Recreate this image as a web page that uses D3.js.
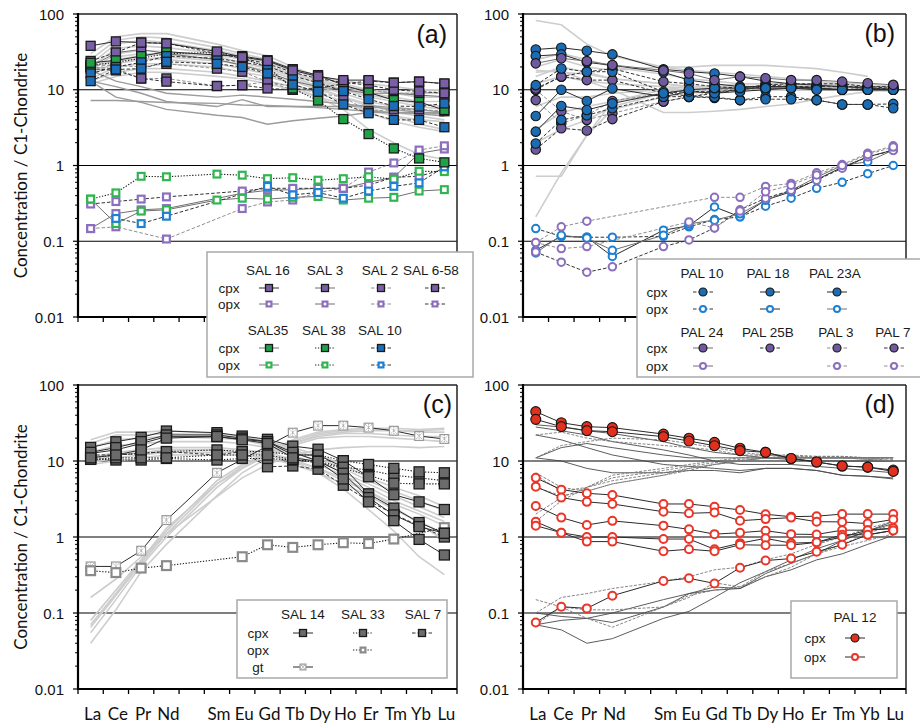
<!DOCTYPE html>
<html><head><meta charset="utf-8">
<script src="https://cdn.jsdelivr.net/npm/d3@7"></script>
<style>body{margin:0;background:#fff}svg{display:block}</style>
</head><body>
<svg id="chart" width="920" height="723"></svg>
<script>
// ---------------- categories & ticks ----------------
const elements = ["La","Ce","Pr","Nd","Pm","Sm","Eu","Gd","Tb","Dy","Ho","Er","Tm","Yb","Lu"];
const ree = ["La","Ce","Pr","Nd","Sm","Eu","Gd","Tb","Dy","Ho","Er","Tm","Yb","Lu"];
const yTickValues = [0.01,0.1,1,10,100];
const yTickLabels = ["0.01","0.1","1","10","100"];
const gridValues = [0.1,1,10];

// ---------------- panel (a) ----------------
const aGreyLight = [
 [30,50,55,55,40,33,28,20,15,12,10,9,8,8],
 [25,45,50,48,36,30,25,19,14,11,9,8,7,7],
 [22,40,45,42,33,28,23,17,13,10,8.5,7.5,6.5,6],
 [20,35,38,36,30,25,21,16,12,10,8,7,6,5.5],
 [18,30,33,32,27,23,19,15,11,9,7,6,5,4.5],
 [16,27,30,29,25,21,18,14,10.5,8,6.5,5,4.5,4],
 [15,24,26,25,22,19,16,13,10,8,6,4.5,3.5,3],
 [14,20,22,22,20,17,15,12,9,7,5,3.8,3.2,2.8],
 [13,17,19,19,17,15,13,11,8,5.5,3,2,1.4,1.2],
 [12,15,17,17,15,14,12,10,8,6.5,5.5,4.5,4,3.8],
 [17,22,25,27,24,22,20,16,13,11,10,9,9,9],
 [20,25,28,30,28,26,23,18,15,13,12,11,10,10]
];
const aGreyMid = [
 [7.2,7.2,7.0,6.8,6.6,6.3,6.2,6.0,6.0,6.0,6.2,5.8,5.5,5.0],
 [13,8,6.8,5.5,4.6,4.3,3.5,3.9,4.2,4.5,5.0,5.0,5.0,5.0],
 [13,11,9,7,6,7.4,6,6,5.8,5.5,5.2,5,4.8,4.5],
 [18,13,11,9,8,8.5,8,7.5,7,6.5,6,5.5,5,4.8]
];
const aSAL16cpx = [[38,43.5,41.9,40.9,32,27,24,18,15,13.4,13.4,12.4,12.8,12.1]];
const aSAL3cpx = [[20,30.9,34,30,25,21,17,13,11,10,9,9,8.5,8.1]];
const aSAL2cpx = [[20,19,14.1,14.1,11.2,11.5,12.8,10,10,10.5,10,9,9,9.5],
                  [21,21,20,22,19,17.3,12.8,11,9,8,5.2,5.5,5.5,5.2]];
const aSAL658cpx = [[19,18,14.1,12.8,11.2,11.5,10.4,10,10.5,12,13,12.4,12.8,12],
                    [24,31,42,41,30,26,22,17,14,12.5,11.5,10,9.5,9]];
const aSAL35cpx = [[22.7,24.4,27.8,31.8,28.7,27.8,24.6,18.7,15.6,11.5,9.2,7.3,6.9,5.4]];
const aSAL38cpx = [[21,23,26,30,31,26,20,10.4,7.2,4.1,2.6,1.68,1.24,1.1]];
const aSAL10cpx = [[16.4,20,23,27.8,26,23,20.6,15.2,12.4,9.6,7.5,6.1,6.0,6.6],
                   [13,18.5,19,23.4,22,20,16.4,11.7,9.4,6.4,4.9,4.0,4.0,3.2]];
const aSAL16opx = [[0.147,0.232,0.26,0.27,null,0.43,0.47,0.48,0.5,0.5,0.6,0.7,1.45,1.65]];
const aSAL2opx = [[0.147,0.155,null,0.107,null,0.27,0.33,0.35,0.44,0.5,0.82,1.08,1.6,1.82]];
const aSAL658opx = [[0.31,0.334,0.36,0.385,null,0.46,0.5,0.5,0.5,0.5,0.55,0.7,0.72,0.9]];
const aSAL35opx = [[0.36,0.171,0.25,0.26,0.35,0.37,0.36,0.38,0.39,0.35,0.37,0.38,0.46,0.48]];
const aSAL38opx = [[0.36,0.435,0.72,0.71,0.77,0.745,0.67,0.69,0.64,0.67,0.71,0.66,0.84,0.83]];
const aSAL10opx = [[null,0.2,0.171,0.214,null,null,0.53,0.41,0.44,0.37,0.46,0.53,0.59,0.96]];

// ---------------- panel (b) ----------------
const bGreyLight = [
 [82,72,40,28,20,18,17,16,15,14,13,12,12,11],
 [0.72,0.72,2.5,7,10,10,10,10,10,10,10,10,10,10],
 [0.21,0.8,2.5,5.5,8,9,9.5,10,10,10,10,10,10,10],
 [17,18,13,10,5,5,5.2,5.5,6,6.5,7.5,8.5,9.5,10],
 [20,25,20,18,20,20,21,21,21,20,19,17,15,null],
 [15,20,17,14,12,11,11,11,10.5,10.5,10,10,10,10],
 [12,15,13,12,11,10.5,10,10,10,10,10,10,10,9.5],
 [25,30,25,20,16,14,13,12,12,11.5,11,11,10.5,10],
 [2,3,4,6,9,10,10,11,11,11,11,11,11,11],
 [3,5,6,7,9,10,10,10.5,11,11,11,11,11,11],
 [18,17,16,14,12,11,11,11,11,11,11,11,10.5,10],
 [6,8,8,9,10,11,11,12,12,12,12,11.5,11,11]
];
const bPAL10cpx = [[11.5,19.1,17.3,17.3,9.4,8.1,7.8,7.3,8.1,8.1,7.3,6.4,6.4,6.5],
                   [1.95,4,4.6,5.7,8.1,8.1,8,7.3,7.5,7.5,7.3,6.4,6.4,5.7]];
const bPAL18cpx = [[34,35.9,32.7,29.3,18.6,17.3,16.4,14.9,13,12,11.5,11,10.5,10],
                   [4.5,10,7.1,10.4,8.1,9.5,9,9.5,10,10.5,10.5,10,10,10]];
const bPAL23Acpx = [[27.9,29.3,23,21,17,13.4,12,11,11,11,10.5,10,10,10],
                    [2.8,6.1,5.4,6.6,9,10,10.5,10.5,10.5,10.5,10,10,10,10]];
const bPAL24cpx = [[22.3,26,23.9,21.2,18,16.4,13.4,14.9,14.2,13.4,13.4,12.8,12.2,11.6]];
const bPAL25Bcpx = [[10.4,14.9,17.3,19,12.8,12,11,10.5,11.6,11,10.4,10,10.4,10.4]];
const bPAL3cpx = [[7.3,3.6,4.6,7.1,9,10,10,10,10.5,10.5,10.5,10.5,10.5,10.4],
                  [10,5.2,4,4.9,7,8.1,9.4,10,11,11,11,11,11,11]];
const bPAL7cpx = [[1.63,3.1,2.9,4.1,7,8,9,10,11.6,12,12,12,11,10.4],
                  [10,15,13.4,13.4,9,9.5,9.4,10,11,11,11,11,11,11]];
const bPAL10opx = [[0.147,0.116,0.113,0.113,0.116,0.155,0.193,0.21,0.29,0.37,0.5,0.6,0.78,1.0]];
const bPAL18opx = [[0.076,0.116,0.113,0.063,0.14,0.16,0.284,0.21,0.35,0.45,0.65,0.95,1.3,1.6]];
const bPAL23Aopx = [[0.07,0.12,0.11,0.076,0.12,0.17,0.19,0.23,0.35,0.47,0.7,1.0,1.12,1.6]];
const bPAL24opx = [[0.096,0.155,0.184,null,null,null,0.38,0.38,0.53,0.58,0.8,1.03,1.45,1.82]];
const bPAL3opx = [[0.072,0.053,0.039,0.046,0.085,0.104,0.15,0.26,0.37,0.47,0.64,0.92,1.3,1.58]];
const bPAL7opx = [[0.096,0.08,0.085,null,null,0.18,0.15,0.25,0.45,0.55,0.75,1.0,1.4,1.75]];

// ---------------- panel (c) ----------------
const cGreyLight = [
 [19,24,24,25,23,21,18,15,12,9,6,4.5,3.5,2.5],
 [17,22,22,23,22,20,17,14,11,8,5.5,4,3,2.2],
 [15,19,20,21,20,19,16,13,10,7,5,3.5,2.5,1.8],
 [13,16,17,18,18,17,15,12,9,6.5,4.5,3,2.2,1.6],
 [11,13,14,15,15,14,13,10.5,8,5.5,4,2.7,2,1.4],
 [9,10,11,12,12,12,11,9,7,5,3.5,2.3,1.6,1.1],
 [9.5,11,12,13,13,13,12,10,8,6,4,2.5,1.5,0.9],
 [10,12,13,14,14,13,12,10,7,4.3,2.3,1.2,0.55,0.32],
 [0.16,0.28,0.55,1.1,3.4,6,9,12,14,15,15.5,15.5,15,15.5],
 [0.08,0.2,0.5,1.3,5,8,12,17,22,24,25,25,25,26],
 [0.07,0.18,0.48,1.2,5.5,9,13,19,24,26,27,27,26,27],
 [0.065,0.17,0.45,1.1,5,8.5,12.5,18,23,25,26,25.5,24,24],
 [0.055,0.15,0.42,1.0,4.5,8,12,17,21,23,23,22,21,21],
 [0.04,0.11,0.35,0.8,3.5,7,11,16,20,21,21,20,19,18]
];
const cSAL14cpx = [[15.1,17.9,20.5,24.8,23.6,21.3,19.3,15.7,14.3,10.1,6.2,3.6,2.9,2.3],
                   [12.6,14,17,20.9,20.9,19.3,17.9,12,12,8.3,3.7,2.4,1.55,1.12],
                   [13,15,18,22,22,20,18,13,10,6.9,3.3,1.95,1.37,1.12],
                   [11,12,14,20,21,19,17,11,9.9,5.8,2.9,1.64,0.93,0.58]];
const cSAL33cpx = [[10.6,10.3,10.3,10.8,10.3,10.8,10.8,10.3,9.9,8.3,7.6,6.5,6.0,5.5],
                   [11,12,12.6,13.3,14,13.3,13.3,12,12,10.1,9.0,8.0,7.2,7.0],
                   [10.5,11,11,11,12,12,12,10.5,9.5,8,6.5,5.1,5.0,5.0]];
const cSAL7cpx = [[12,12,12.6,13.3,12,13.3,8.4,8.6,7.8,4.8,3.0,2.0,1.4,1.0]];
const cSAL33opx = [[0.36,0.34,0.39,0.42,null,0.55,0.79,0.73,0.79,0.84,0.82,0.94,null,1.33]];
const cSAL14gt = [[0.41,0.41,0.66,1.67,7.0,null,null,23.6,29.2,29.2,27.5,25,21.3,19.5]];

// ---------------- panel (d) ----------------
const dGreySolid = [
 [30,28,25,23,18,15,13,12,11,10.5,10,10,10,10],
 [28,25,22,18,14,12,10,9,9,9,8.5,8,7.5,7],
 [22,19,15,12,9,8.5,8,7.5,8,8,7.5,6.5,6.3,5.8],
 [11,10,8,7,7,7.5,7.5,7,8,8,7.5,6.5,6.3,6],
 [11,15,17,15,12,11,11,11,11,11,11,11,11,11],
 [0.07,0.06,0.04,0.046,0.085,0.105,0.16,0.25,0.35,0.5,0.7,0.9,1.2,1.5],
 [0.07,0.08,0.085,0.075,0.12,0.18,0.2,0.21,0.33,0.45,0.6,0.9,1.2,1.6],
 [0.1,0.09,0.085,0.1,0.15,0.18,0.22,0.21,0.3,0.37,0.5,0.6,0.8,1.05]
];
const dGreyDashed = [
 [22,24,20,18,16,15,14,12,12,11,11,11,11,11],
 [11,16,18,20,19,17,15,13,12,11.5,11,11,11,11],
 [7,4.5,4,5,6.5,7.5,9,10,11,11,11,11,11,10],
 [6.5,4,4.5,5.5,7,8,9,10,11,11,11,11,10.5,10],
 [4.5,3.5,4,5,6.5,8,9,10,11,11,11,11,10.5,10],
 [2,3.3,4.5,6,7.5,8.5,9.5,10.5,11,11.5,11.5,11.5,11,11],
 [1.6,3,4.5,6.5,8,9,10,11,12,12,11.5,11.5,11,10.5],
 [0.1,0.16,0.18,0.21,0.26,0.3,0.37,0.4,0.5,0.6,0.8,1.0,1.3,1.6],
 [0.15,0.12,0.085,0.065,0.12,0.16,0.25,0.22,0.3,0.4,0.6,0.8,1.1,1.5],
 [0.07,0.12,0.11,0.11,0.12,0.17,0.2,0.22,0.35,0.45,0.6,0.75,0.9,1.1]
];
const dPAL12cpx = [[44.6,31.9,28.3,27.5,22.6,19.9,17.6,14.7,13,10.8,9.7,8.6,8.3,7.6],
                   [35.3,28.3,25.1,24.3,20.9,18.3,15.9,13.7,13,10.8,9.7,8.6,8.3,7.3]];
const dPAL12opx = [[6.0,4.2,3.76,3.57,2.72,2.72,2.5,2.27,1.99,1.85,1.88,2.0,2.0,2.0],
                   [4.6,3.3,2.9,2.72,2.15,2.05,2.1,1.64,1.72,1.8,1.59,1.58,1.5,1.7],
                   [2.56,1.8,1.44,1.63,1.41,1.26,1.09,1.14,1.21,1.09,1.08,1.23,1.23,1.3],
                   [1.59,1.14,1.0,1.0,0.94,0.94,0.69,0.83,0.96,0.83,0.85,1.07,1.07,1.22],
                   [1.41,1.14,0.87,0.87,0.65,0.69,0.65,0.79,0.78,0.78,0.85,1.0,1.23,1.3],
                   [0.075,0.121,0.115,0.169,0.264,0.286,0.245,0.394,0.49,0.52,0.64,0.79,1.07,1.22]];

// ---------------- styles ----------------
const PURPLE="#7a5fa6", PURPLE_O="#8b6fbe", GREEN="#1fa247", GREEN_O="#2fb650",
      BLUE="#1c6eb8", BLUE_O="#1e80d2", GREYF="#6b6b6b", GREY_O="#8a8a8a",
      RED="#e2301f", RED_O="#ea3528", BPURPLE="#6e5a9c", BBLUE="#1b6cb3";
const LS = {
  solid:{stroke:"#2b2b2b",dash:null,w:1},
  solidGrey:{stroke:"#707070",dash:null,w:1},
  dashed:{stroke:"#333",dash:"3.5,2",w:1},
  dashedLight:{stroke:"#8e8e8e",dash:"3.5,2",w:1},
  dotted:{stroke:"#1e1e1e",dash:"1.3,1.6",w:1.1}
};
const TICKFONT="'Liberation Sans', Arial, sans-serif";
const LABFONT="Lato, 'Open Sans', sans-serif";

const svg = d3.select("#chart");

function marker(g, m, color, x, y, s) {
  if (m==="sq") {
    g.append("rect").attr("x",x-s/2).attr("y",y-s/2).attr("width",s).attr("height",s)
     .attr("fill",color).attr("stroke","#1a1a1a").attr("stroke-width",1.3);
  } else if (m==="sqo") {
    g.append("rect").attr("x",x-s/2+1.1).attr("y",y-s/2+1.1).attr("width",s-2.2).attr("height",s-2.2)
     .attr("fill","#fff").attr("stroke",color).attr("stroke-width",2.2);
  } else if (m==="ci") {
    g.append("circle").attr("cx",x).attr("cy",y).attr("r",s/2)
     .attr("fill",color).attr("stroke","#151515").attr("stroke-width",1.1);
  } else if (m==="cio") {
    g.append("circle").attr("cx",x).attr("cy",y).attr("r",s/2-1)
     .attr("fill","#fff").attr("stroke",color).attr("stroke-width",2);
  } else if (m==="gt") {
    g.append("rect").attr("x",x-s/2+0.6).attr("y",y-s/2+0.6).attr("width",s-1.2).attr("height",s-1.2)
     .attr("fill","#fff").attr("stroke","#9a9a9a").attr("stroke-width",1.2);
    g.append("path").attr("d",`M${x-s/2+1.5},${y-s/2+1.5}L${x+s/2-1.5},${y+s/2-1.5}M${x+s/2-1.5},${y-s/2+1.5}L${x-s/2+1.5},${y+s/2-1.5}M${x},${y-s/2+1}L${x},${y+s/2-1}`)
     .attr("stroke","#a5a5a5").attr("stroke-width",1).attr("stroke-dasharray","1.2,0.8");
  }
}

function drawPanel(p) {
  const g = svg.append("g");
  const x = d3.scaleBand().domain(elements).range([p.x0,p.x1]);
  const y = d3.scaleLog().domain([0.01,100]).range([p.y1,p.y0]);
  const cx = e => x(e) + x.bandwidth()/2;
  const pts = arr => ree.map((e,i)=>({e,v:arr[i]})).filter(d=>d.v!=null);
  const line = d3.line().x(d=>cx(d.e)).y(d=>y(d.v));

  gridValues.forEach(v=>{
    g.append("line").attr("x1",p.x0).attr("x2",p.x1).attr("y1",y(v)).attr("y2",y(v))
     .attr("stroke","#000").attr("stroke-width",1.2);
  });
  p.grey.forEach(gr=>{
    gr.data.forEach(arr=>{
      g.append("path").attr("d",line(pts(arr))).attr("fill","none")
       .attr("stroke",gr.stroke).attr("stroke-width",gr.w)
       .attr("stroke-dasharray",gr.dash||null);
    });
  });
  p.series.forEach(s=>{
    const st = LS[s.s];
    s.data.forEach(arr=>{
      g.append("path").attr("d",line(pts(arr))).attr("fill","none")
       .attr("stroke",st.stroke).attr("stroke-width",st.w).attr("stroke-dasharray",st.dash);
    });
  });
  p.series.forEach(s=>{
    s.data.forEach(arr=>{
      pts(arr).forEach(d=>marker(g,s.m,s.c,cx(d.e),y(d.v),s.size||p.msize));
    });
  });

  g.append("line").attr("x1",p.x0).attr("x2",p.x1).attr("y1",p.y0).attr("y2",p.y0).attr("stroke","#222").attr("stroke-width",1.5);
  g.append("line").attr("x1",p.x1).attr("x2",p.x1).attr("y1",p.y0).attr("y2",p.y1).attr("stroke","#222").attr("stroke-width",1.5);
  for (let k=-2;k<2;k++) for (let m=2;m<10;m++) {
    const yy = y(m*Math.pow(10,k));
    g.append("line").attr("x1",p.x0-3).attr("x2",p.x0).attr("y1",yy).attr("y2",yy).attr("stroke","#000").attr("stroke-width",1);
  }
  yTickValues.forEach((v,i)=>{
    g.append("line").attr("x1",p.x0-5).attr("x2",p.x0).attr("y1",y(v)).attr("y2",y(v)).attr("stroke","#000").attr("stroke-width",1.2);
    g.append("text").attr("x",p.x0-14).attr("y",y(v)).attr("text-anchor","end").attr("dominant-baseline","central")
     .attr("font-family",TICKFONT).attr("font-size",15).attr("fill","#111").text(yTickLabels[i]);
  });
  g.append("line").attr("x1",p.x0).attr("x2",p.x0).attr("y1",p.y0-1).attr("y2",p.y1+1).attr("stroke","#000").attr("stroke-width",2.2);
  const bounds = elements.map(e=>x(e)).concat([p.x1]);
  bounds.forEach(b=>{
    g.append("line").attr("x1",b).attr("x2",b).attr("y1",p.y1).attr("y2",p.y1+5).attr("stroke","#000").attr("stroke-width",1.3);
  });
  g.append("line").attr("x1",p.x0-1).attr("x2",p.x1).attr("y1",p.y1).attr("y2",p.y1).attr("stroke","#000").attr("stroke-width",2.2);
  if (p.xlabels) {
    ree.forEach(e=>{
      g.append("text").attr("x",cx(e)+2).attr("y",p.y1+24).attr("text-anchor","middle").attr("dominant-baseline","central")
       .attr("font-family",LABFONT).attr("font-size",17).attr("fill","#111").text(e);
    });
  }
  if (p.ytitle) {
    g.append("text").attr("transform",`translate(20,${(p.y0+p.y1)/2}) rotate(-90)`)
     .attr("text-anchor","middle").attr("dominant-baseline","central")
     .attr("font-family",LABFONT).attr("font-size",17).attr("fill","#111").text("Concentration / C1-Chondrite");
  }
  g.append("text").attr("x",p.lx).attr("y",p.ly).attr("text-anchor","end")
   .attr("font-family",TICKFONT).attr("font-size",25).attr("fill","#111").text(p.label);

  const L = p.legend;
  const lg = svg.append("g");
  lg.append("rect").attr("x",L.box[0]).attr("y",L.box[1]).attr("width",L.box[2]).attr("height",L.box[3])
    .attr("fill","#fff").attr("stroke","#a9a9a9").attr("stroke-width",1.5);
  L.texts.forEach(t=>{
    lg.append("text").attr("x",t[1]).attr("y",t[2]).attr("text-anchor","middle").attr("dominant-baseline","central")
      .attr("font-family",TICKFONT).attr("font-size",13.5).attr("fill","#1a1a1a").text(t[0]);
  });
  L.items.forEach(it=>{
    const st = LS[it.s];
    lg.append("line").attr("x1",it.x-10).attr("x2",it.x+10).attr("y1",it.y).attr("y2",it.y)
      .attr("stroke",st.stroke).attr("stroke-width",st.w).attr("stroke-dasharray",st.dash);
    marker(lg,it.m,it.c,it.x,it.y,it.m.startsWith("ci")?8:7);
  });
}

const greyLight = data => ({data, stroke:"#cdcdcd", w:1.6});

const panels = [
 {x0:78,x1:457,y0:14,y1:317,label:"(a)",lx:447,ly:43,xlabels:false,ytitle:true,msize:9,
  grey:[greyLight(aGreyLight),{data:aGreyMid,stroke:"#9b9b9b",w:1.4}],
  series:[
   {data:aSAL16opx,m:"sqo",c:PURPLE_O,s:"solidGrey"},
   {data:aSAL2opx,m:"sqo",c:PURPLE_O,s:"dashedLight"},
   {data:aSAL658opx,m:"sqo",c:PURPLE_O,s:"dashed"},
   {data:aSAL35opx,m:"sqo",c:GREEN_O,s:"solidGrey"},
   {data:aSAL38opx,m:"sqo",c:GREEN_O,s:"dotted"},
   {data:aSAL10opx,m:"sqo",c:BLUE_O,s:"dashed"},
   {data:aSAL3cpx,m:"sq",c:PURPLE,s:"solidGrey"},
   {data:aSAL2cpx,m:"sq",c:PURPLE,s:"dashedLight"},
   {data:aSAL658cpx,m:"sq",c:PURPLE,s:"dashed"},
   {data:aSAL38cpx,m:"sq",c:GREEN,s:"dotted"},
   {data:aSAL35cpx,m:"sq",c:GREEN,s:"solid"},
   {data:aSAL10cpx,m:"sq",c:BLUE,s:"dashed"},
   {data:aSAL16cpx,m:"sq",c:PURPLE,s:"solid"}
  ],
  legend:{box:[207,252,266,125],
   texts:[["SAL 16",268,270],["SAL 3",325,270],["SAL 2",380,270],["SAL 6-58",431,270],
          ["cpx",229,288],["opx",229,304],
          ["SAL35",268,330],["SAL 38",324,330],["SAL 10",380,330],
          ["cpx",229,348],["opx",229,365]],
   items:[
    {x:269,y:288,m:"sq",c:PURPLE,s:"solid"},{x:325,y:288,m:"sq",c:PURPLE,s:"solidGrey"},
    {x:381,y:288,m:"sq",c:PURPLE,s:"dashedLight"},{x:435,y:288,m:"sq",c:PURPLE,s:"dashed"},
    {x:269,y:304,m:"sqo",c:PURPLE_O,s:"solidGrey"},{x:325,y:304,m:"sqo",c:PURPLE_O,s:"solidGrey"},
    {x:381,y:304,m:"sqo",c:PURPLE_O,s:"dashedLight"},{x:435,y:304,m:"sqo",c:PURPLE_O,s:"dashed"},
    {x:269,y:348,m:"sq",c:GREEN,s:"solidGrey"},{x:325,y:348,m:"sq",c:GREEN,s:"dotted"},{x:381,y:348,m:"sq",c:BLUE,s:"dashed"},
    {x:269,y:365,m:"sqo",c:GREEN_O,s:"solidGrey"},{x:325,y:365,m:"sqo",c:GREEN_O,s:"dotted"},{x:381,y:365,m:"sqo",c:BLUE_O,s:"dashed"}
   ]}},
 {x0:523,x1:906,y0:14,y1:317,label:"(b)",lx:895,ly:42,xlabels:false,ytitle:false,msize:9.5,
  grey:[greyLight(bGreyLight)],
  series:[
   {data:bPAL10opx,m:"cio",c:BLUE_O,s:"dashed"},
   {data:bPAL18opx,m:"cio",c:BLUE_O,s:"solid"},
   {data:bPAL23Aopx,m:"cio",c:BLUE_O,s:"solidGrey"},
   {data:bPAL24opx,m:"cio",c:PURPLE_O,s:"dashedLight"},
   {data:bPAL3opx,m:"cio",c:PURPLE_O,s:"dashed"},
   {data:bPAL7opx,m:"cio",c:PURPLE_O,s:"dashedLight"},
   {data:bPAL3cpx,m:"ci",c:BPURPLE,s:"dashedLight"},
   {data:bPAL7cpx,m:"ci",c:BPURPLE,s:"dashed"},
   {data:bPAL25Bcpx,m:"ci",c:BPURPLE,s:"dashed"},
   {data:bPAL10cpx,m:"ci",c:BBLUE,s:"dashed"},
   {data:bPAL18cpx,m:"ci",c:BBLUE,s:"solid"},
   {data:bPAL23Acpx,m:"ci",c:BBLUE,s:"solid"},
   {data:bPAL24cpx,m:"ci",c:BPURPLE,s:"solidGrey"}
  ],
  legend:{box:[637,259,290,118],
   texts:[["PAL 10",702,273],["PAL 18",768,273],["PAL 23A",835,273],
          ["cpx",657,292],["opx",657,309],
          ["PAL 24",702,332],["PAL 25B",768,332],["PAL 3",836,332],["PAL 7",893,332],
          ["cpx",657,348],["opx",657,366]],
   items:[
    {x:703,y:292,m:"ci",c:BBLUE,s:"dashed"},{x:770,y:292,m:"ci",c:BBLUE,s:"solid"},{x:837,y:292,m:"ci",c:BBLUE,s:"solid"},
    {x:703,y:309,m:"cio",c:BLUE_O,s:"dashed"},{x:770,y:309,m:"cio",c:BLUE_O,s:"solid"},{x:837,y:309,m:"cio",c:BLUE_O,s:"solidGrey"},
    {x:703,y:348,m:"ci",c:BPURPLE,s:"solidGrey"},{x:770,y:348,m:"ci",c:BPURPLE,s:"dashed"},
    {x:837,y:348,m:"ci",c:BPURPLE,s:"dashedLight"},{x:894,y:348,m:"ci",c:BPURPLE,s:"dashed"},
    {x:703,y:366,m:"cio",c:PURPLE_O,s:"solidGrey"},{x:837,y:366,m:"cio",c:PURPLE_O,s:"dashedLight"},{x:894,y:366,m:"cio",c:PURPLE_O,s:"dashedLight"}
   ]}},
 {x0:78,x1:457,y0:385,y1:689,label:"(c)",lx:452,ly:413,xlabels:true,ytitle:true,msize:10,
  grey:[greyLight(cGreyLight)],
  series:[
   {data:cSAL14gt,m:"gt",c:"#aaa",s:"solid"},
   {data:cSAL33opx,m:"sqo",c:GREY_O,s:"dotted",size:11},
   {data:cSAL7cpx,m:"sq",c:GREYF,s:"dashed"},
   {data:cSAL33cpx,m:"sq",c:GREYF,s:"dotted"},
   {data:cSAL14cpx,m:"sq",c:GREYF,s:"solid"}
  ],
  legend:{box:[237,600,210,78],
   texts:[["SAL 14",303,614],["SAL 33",363,614],["SAL 7",423,614],
          ["cpx",258,633],["opx",258,650],["gt",258,667]],
   items:[
    {x:303,y:633,m:"sq",c:GREYF,s:"solid"},{x:363,y:633,m:"sq",c:GREYF,s:"dotted"},{x:422,y:633,m:"sq",c:GREYF,s:"dashed"},
    {x:363,y:650,m:"sqo",c:GREY_O,s:"dotted"},{x:303,y:667,m:"gt",c:"#aaa",s:"solid"}
   ]}},
 {x0:523,x1:906,y0:385,y1:689,label:"(d)",lx:895,ly:413,xlabels:true,ytitle:false,msize:10,
  grey:[{data:dGreySolid,stroke:"#4a4a4a",w:0.9},{data:dGreyDashed,stroke:"#777",w:0.9,dash:"3,1.5"}],
  series:[
   {data:dPAL12opx,m:"cio",c:RED_O,s:"solid"},
   {data:dPAL12cpx,m:"ci",c:RED,s:"solid"}
  ],
  legend:{box:[791,601,106,77],
   texts:[["PAL 12",855,617],["cpx",815,638],["opx",815,657]],
   items:[{x:855,y:638,m:"ci",c:RED,s:"solid"},{x:855,y:657,m:"cio",c:RED_O,s:"solid"}]}}
];

panels.forEach(drawPanel);
</script>
</body></html>
